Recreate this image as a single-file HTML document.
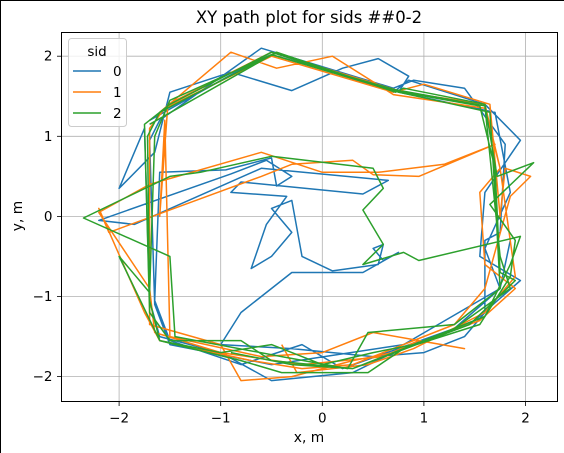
<!DOCTYPE html>
<html><head><meta charset="utf-8"><style>
html,body{margin:0;padding:0;background:#fff}
svg{display:block;font-family:"DejaVu Sans","Liberation Sans",sans-serif}
</style></head><body>
<svg id="chart" width="564" height="453" viewBox="0 0 564 453">
<rect x="0.5" y="0.5" width="570" height="460" fill="#fff" stroke="#000" stroke-width="1"/>
<text x="309" y="23" text-anchor="middle" font-size="16.5">XY path plot for sids ##0-2</text>
<g id="grid"></g>
<g id="series"></g>
<rect x="61.5" y="32.5" width="496" height="369" fill="none" stroke="#000" stroke-width="1"/>
<g id="ticks"></g>
<text x="309" y="442" text-anchor="middle" font-size="13.8">x, m</text>
<text x="22" y="216" text-anchor="middle" font-size="13.8" transform="rotate(-90 22 216)">y, m</text>
<g>
<rect x="68.5" y="38.5" width="58" height="88" rx="3" fill="#fff" fill-opacity="0.8" stroke="#ccc"/>
<text x="97" y="56" text-anchor="middle" font-size="13.5">sid</text>
<line x1="73" y1="71" x2="101" y2="71" stroke="#1f77b4" stroke-width="1.5"/>
<text x="113" y="76" font-size="13.5">0</text>
<line x1="73" y1="92" x2="101" y2="92" stroke="#ff7f0e" stroke-width="1.5"/>
<text x="113" y="97" font-size="13.5">1</text>
<line x1="73" y1="113" x2="101" y2="113" stroke="#2ca02c" stroke-width="1.5"/>
<text x="113" y="118" font-size="13.5">2</text>
</g>
</svg>
<script>
const xTicks=[-2,-1,0,1,2];
const yTicks=[-2,-1,0,1,2];
const seriesNames=["0","1","2"];
const seriesColors=["#1f77b4","#ff7f0e","#2ca02c"];
const path0=[[-1.7,1.2],[-0.5,2.05],[0.7,1.55],[0.85,1.7],[1.6,1.4],[1.95,0.95],[1.6,0.3],[1.55,-0.5],[1.95,-0.8],[1.5,-1.3],[0.7,-1.7],[0.3,-1.95],[-0.5,-2.05],[-1.0,-1.7],[-1.6,-1.5],[-1.7,-1.05],[-1.75,1.1],[-2.0,0.35],[-1.65,0.8],[-1.55,1.3],[-1.5,1.55],[-0.9,1.8],[-0.3,1.57],[0.2,1.85],[0.55,1.97],[0.85,1.75],[0.75,1.55],[1.7,1.3],[1.85,0.3],[1.6,-0.4],[1.75,-0.9],[1.3,-1.4],[0.2,-1.9],[-0.2,-1.6],[-0.8,-1.85],[-1.5,-1.55],[-1.65,-1.05],[-1.6,0.55],[-0.95,0.58],[-0.5,0.73],[-0.45,0.38],[-0.3,0.5],[-0.55,0.7],[-0.9,0.53],[-2.2,-0.05],[-1.85,-0.1],[-0.6,0.6],[0.65,0.45],[0.4,0.28],[-0.8,0.43],[-0.9,0.3],[-0.35,0.25],[-0.55,-0.1],[-0.7,-0.65],[-0.5,-0.5],[-0.3,-0.2],[-0.5,0.1],[-0.3,0.2],[-0.2,-0.5],[0.1,-0.68],[0.55,-0.6],[0.6,-0.35],[0.5,-0.4],[0.6,-0.55],[0.75,-0.45],[0.4,-0.7],[-0.3,-0.7],[-0.8,-1.2],[-1.0,-1.6],[-0.3,-1.65],[0.5,-1.75],[1.0,-1.7],[1.4,-1.5],[1.6,-1.2],[1.6,-0.3],[1.75,-0.2],[1.8,0.9],[1.4,1.6],[0.9,1.7],[0.7,1.6],[-0.6,2.1],[-1.6,1.2],[-1.7,0.95],[-1.65,-1.1],[-1.5,-1.6],[-0.5,-1.85],[0.8,-1.6],[1.75,-0.9],[1.85,-0.3]];
const path1=[[-1.6,1.3],[-0.9,2.05],[-0.45,1.85],[0.1,2.0],[0.7,1.52],[1.6,1.35],[1.75,0.6],[1.55,0.3],[1.6,-0.6],[1.9,-0.9],[1.55,-1.3],[0.7,-1.7],[0.3,-1.8],[-0.3,-2.0],[-0.8,-2.05],[-1.0,-1.6],[-1.7,-1.35],[-1.7,1.1],[-1.55,1.35],[-0.5,2.0],[0.7,1.55],[1.0,1.65],[1.65,1.4],[1.75,0.0],[1.8,0.6],[2.05,0.5],[1.85,0.25],[1.6,-0.9],[1.3,-1.35],[0.3,-1.85],[-0.2,-1.9],[-0.7,-1.8],[-1.6,-1.55],[-1.75,-1.2],[-2.2,0.1],[-2.1,-0.2],[-0.6,0.5],[-0.3,0.65],[0.3,0.7],[0.5,0.52],[0.95,0.5],[1.7,0.9],[1.2,0.65],[0.55,0.55],[0.0,0.55],[-0.6,0.8],[-1.7,0.4],[-2.2,0.05],[-1.7,-0.9],[-1.65,-1.45],[-1.0,-1.7],[-0.2,-1.85],[0.6,-1.75],[0.95,-1.55],[1.4,-1.65],[0.5,-1.45],[0.0,-1.7],[-0.6,-1.75],[-1.5,-1.5],[-1.55,1.2],[-1.6,0.0],[-1.52,1.4],[-0.5,2.05],[0.8,1.55],[1.6,1.4],[1.75,0.6],[1.9,-0.75],[1.6,-1.2],[0.9,-1.65],[0.45,-1.85],[-0.25,-1.95],[-0.4,-1.6]];
const path2=[[-1.7,1.15],[-0.45,2.05],[0.72,1.55],[0.8,1.6],[1.6,1.4],[1.72,0.5],[2.08,0.67],[1.65,0.15],[1.9,-0.3],[1.85,-0.75],[1.55,-1.35],[0.8,-1.65],[0.45,-1.95],[-0.4,-1.95],[-0.8,-1.8],[-1.6,-1.55],[-1.7,-1.05],[-1.72,1.0],[-1.6,1.3],[-0.5,2.02],[0.7,1.57],[1.55,1.38],[1.7,0.6],[1.75,-0.7],[1.9,-0.8],[1.45,-1.35],[0.3,-1.9],[-0.5,-1.8],[-0.8,-1.55],[-1.5,-1.55],[-1.7,-1.2],[-1.75,1.15],[-1.5,1.4],[-0.5,2.05],[0.75,1.55],[1.65,1.3],[1.7,0.3],[1.75,-0.9],[1.3,-1.35],[0.45,-1.45],[0.25,-1.9],[-0.4,-1.75],[-1.45,-1.5],[-1.5,-0.5],[-2.35,-0.02],[-1.5,0.5],[-1.2,0.55],[-0.5,0.75],[0.5,0.6],[0.6,0.35],[0.4,0.08],[0.6,-0.35],[0.4,-0.6],[0.8,-0.45],[0.95,-0.55],[1.95,-0.25],[1.85,-0.6],[1.6,-1.25],[0.9,-1.6],[0.5,-1.7],[0.0,-1.85],[-0.5,-1.6],[-1.0,-1.7],[-1.6,-1.55],[-2.0,-0.5],[-1.7,-0.95],[-1.65,1.0],[-1.5,1.45],[-0.5,2.02],[0.72,1.58],[1.6,1.38],[1.75,-0.5],[1.85,-0.9],[1.3,-1.4],[1.1,-1.5],[0.3,-1.9],[-0.3,-1.85],[-0.9,-1.7]];
const paths=[path0,path1,path2];

const SVGNS="http://www.w3.org/2000/svg";
const L=61.5,R=557.5,T=32.5,B=401.5;
function xs(v){return 322.3+v*101.6;}
function ys(v){return 216.4-v*80.1;}
const grid=document.getElementById('grid');
const ticks=document.getElementById('ticks');
const series=document.getElementById('series');
xTicks.forEach(t=>{
  const g=document.createElementNS(SVGNS,'line');
  g.setAttribute('x1',xs(t));g.setAttribute('x2',xs(t));g.setAttribute('y1',T);g.setAttribute('y2',B);
  g.setAttribute('stroke','#b0b0b0');g.setAttribute('stroke-width','0.8');
  
  
  grid.appendChild(g);
  const tk=document.createElementNS(SVGNS,'line');
  tk.setAttribute('x1',xs(t));tk.setAttribute('x2',xs(t));tk.setAttribute('y1',B);tk.setAttribute('y2',B+4.5);
  tk.setAttribute('stroke','#000');tk.setAttribute('stroke-width','0.8');
  
  
  ticks.appendChild(tk);
  const tx=document.createElementNS(SVGNS,'text');
  tx.setAttribute('x',xs(t));tx.setAttribute('y',B+21);tx.setAttribute('text-anchor','middle');tx.setAttribute('font-size','13.5');
  tx.textContent=t<0?'\u2212'+Math.abs(t):String(t);
  
  
  ticks.appendChild(tx);
});
yTicks.forEach(t=>{
  const g=document.createElementNS(SVGNS,'line');
  g.setAttribute('y1',ys(t));g.setAttribute('y2',ys(t));g.setAttribute('x1',L);g.setAttribute('x2',R);
  g.setAttribute('stroke','#b0b0b0');g.setAttribute('stroke-width','0.8');
  
  
  grid.appendChild(g);
  const tk=document.createElementNS(SVGNS,'line');
  tk.setAttribute('y1',ys(t));tk.setAttribute('y2',ys(t));tk.setAttribute('x1',L-4.5);tk.setAttribute('x2',L);
  tk.setAttribute('stroke','#000');tk.setAttribute('stroke-width','0.8');
  
  
  ticks.appendChild(tk);
  const tx=document.createElementNS(SVGNS,'text');
  tx.setAttribute('x',L-9);tx.setAttribute('y',ys(t)+4.5);tx.setAttribute('text-anchor','end');tx.setAttribute('font-size','13.5');
  tx.textContent=t<0?'\u2212'+Math.abs(t):String(t);
  
  
  ticks.appendChild(tx);
});
paths.forEach((p,i)=>{
  const pl=document.createElementNS(SVGNS,'polyline');
  pl.setAttribute('points',p.map(d=>xs(d[0]).toFixed(1)+','+ys(d[1]).toFixed(1)).join(' '));
  pl.setAttribute('fill','none');pl.setAttribute('stroke',seriesColors[i]);pl.setAttribute('stroke-width','1.5');
  pl.setAttribute('stroke-linejoin','round');
  
  
  series.appendChild(pl);
});
</script>
</body></html>
